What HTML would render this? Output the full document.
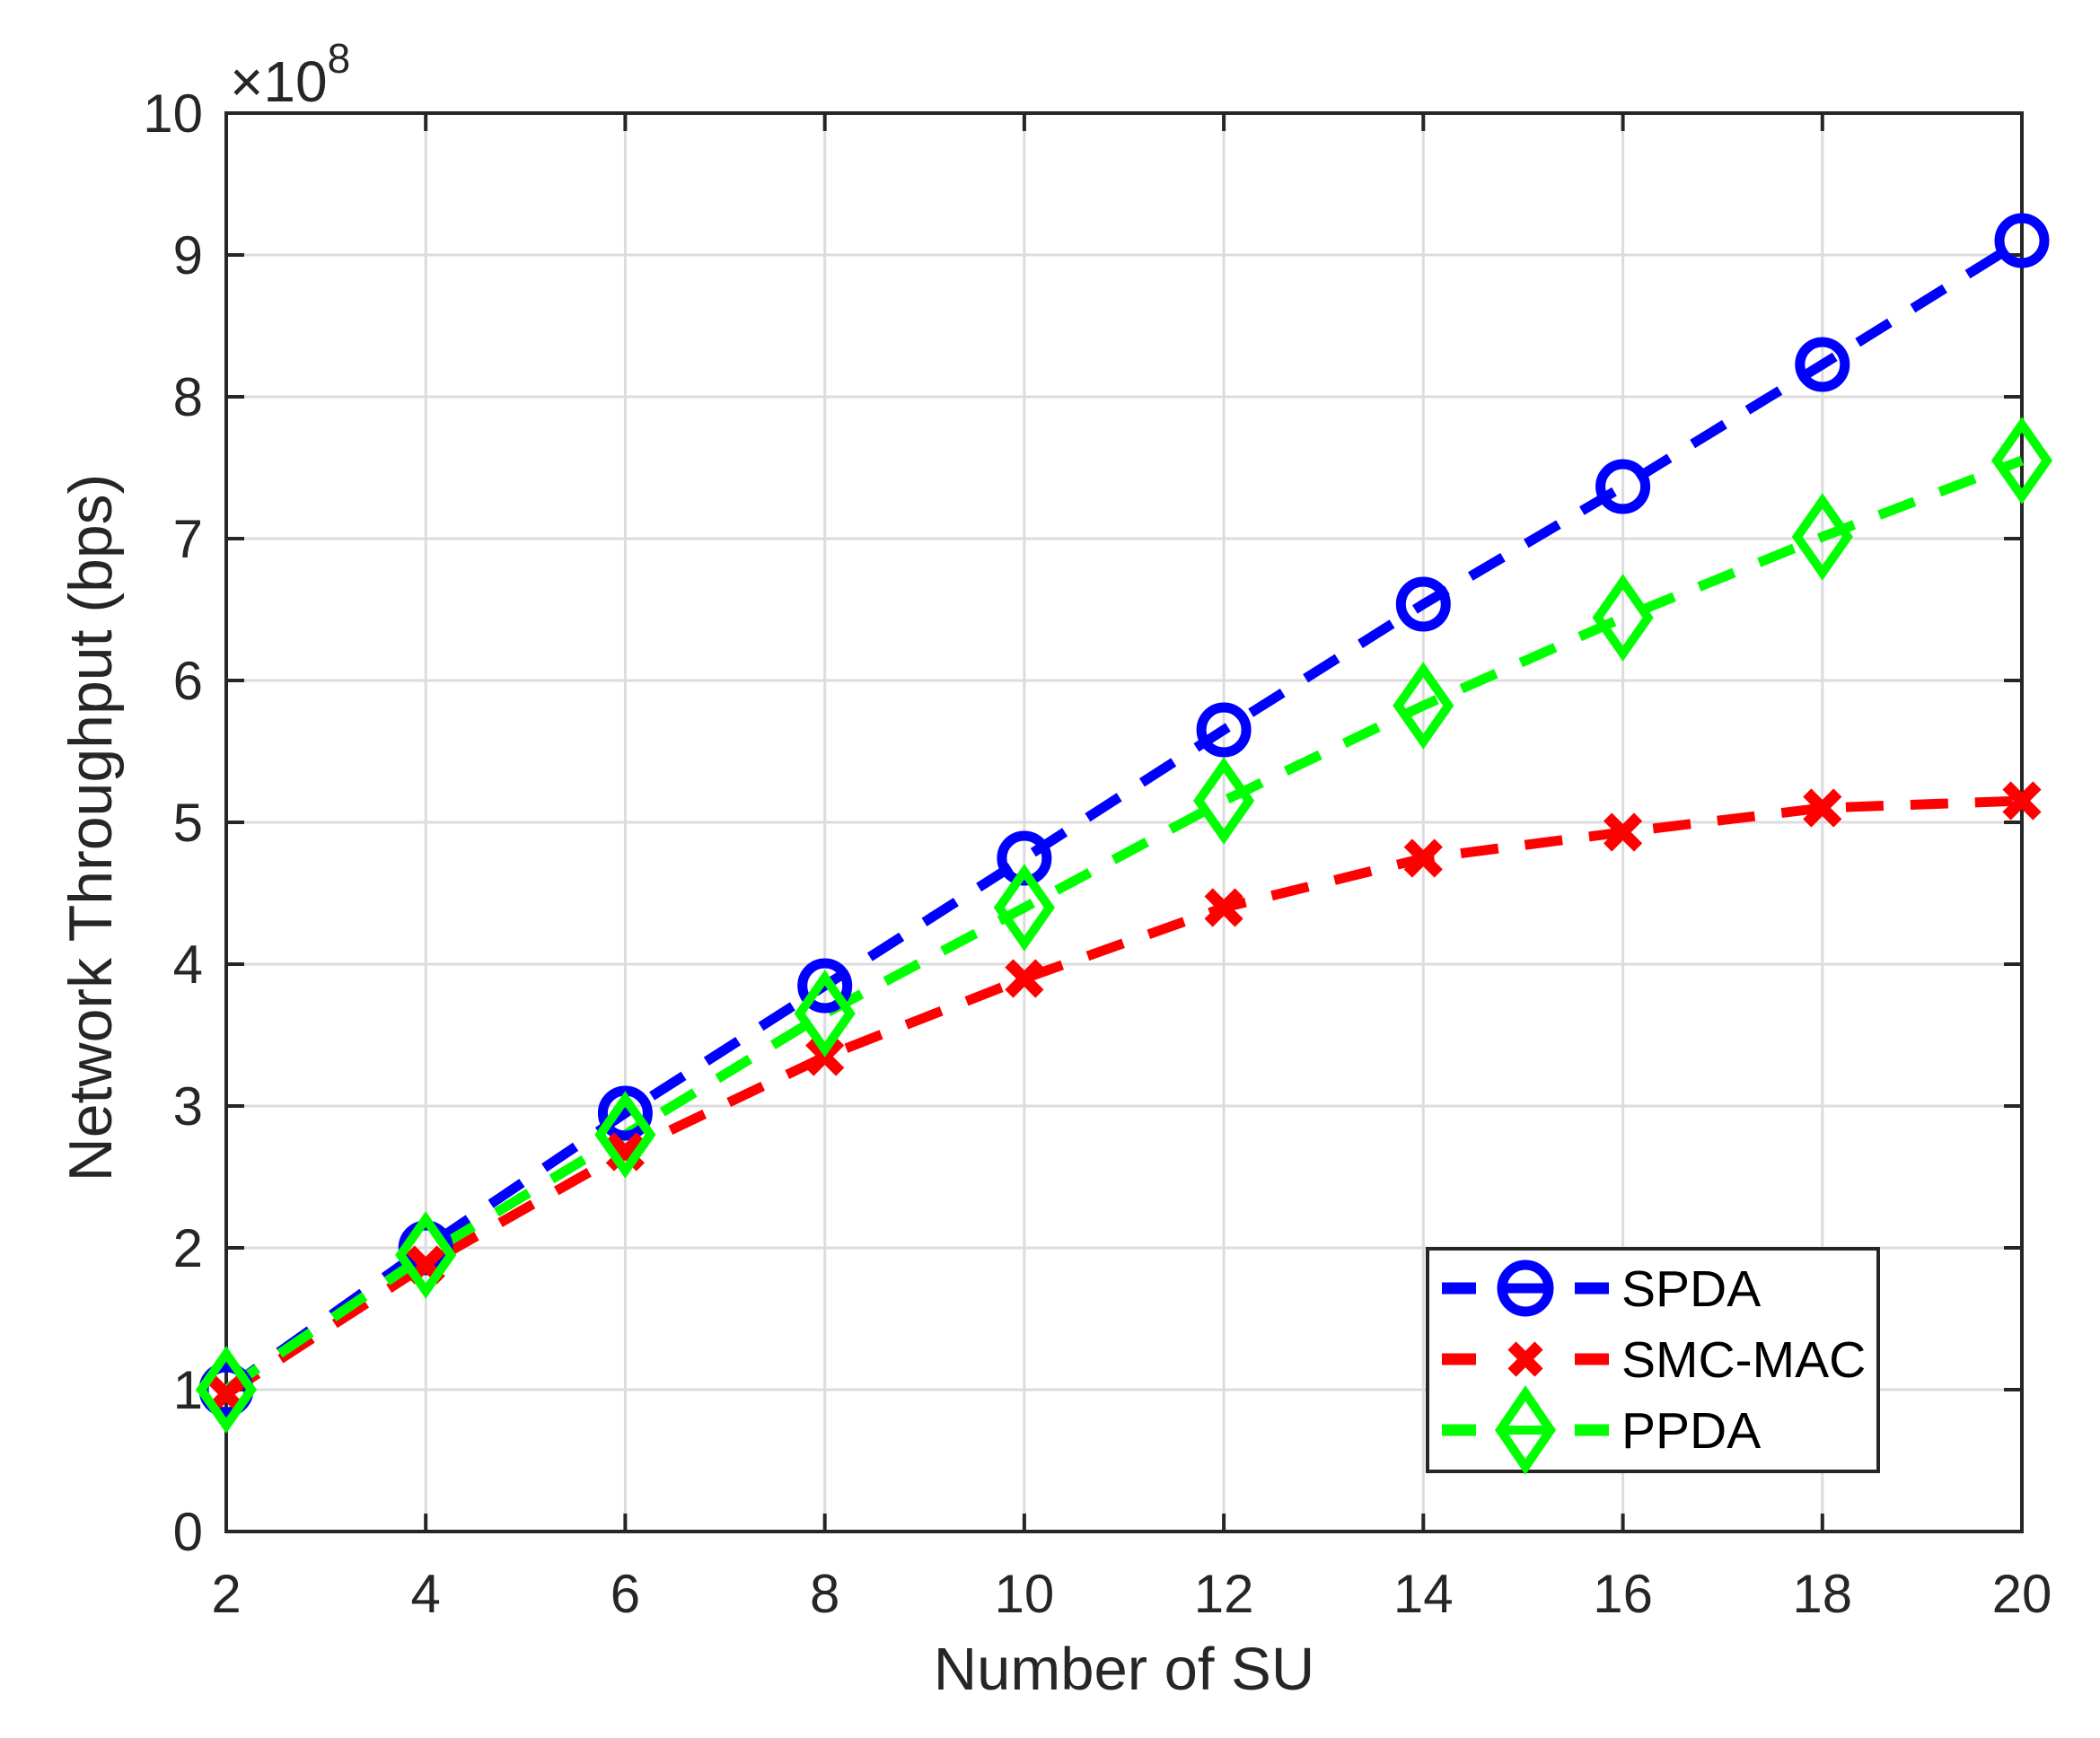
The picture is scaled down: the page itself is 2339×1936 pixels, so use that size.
<!DOCTYPE html>
<html><head><meta charset="utf-8"><style>html,body{margin:0;padding:0;background:#fff}svg{display:block}</style></head>
<body>
<svg xmlns="http://www.w3.org/2000/svg" width="2339" height="1936" viewBox="0 0 2339 1936" font-family="Liberation Sans, sans-serif">
<rect width="2339" height="1936" fill="#fff"/>
<g stroke="#dcdcdc" stroke-width="3">
<line x1="474.2" y1="126" x2="474.2" y2="1706"/><line x1="696.4" y1="126" x2="696.4" y2="1706"/><line x1="918.7" y1="126" x2="918.7" y2="1706"/><line x1="1140.9" y1="126" x2="1140.9" y2="1706"/><line x1="1363.1" y1="126" x2="1363.1" y2="1706"/><line x1="1585.3" y1="126" x2="1585.3" y2="1706"/><line x1="1807.6" y1="126" x2="1807.6" y2="1706"/><line x1="2029.8" y1="126" x2="2029.8" y2="1706"/>
<line x1="252" y1="1548" x2="2252" y2="1548"/><line x1="252" y1="1390" x2="2252" y2="1390"/><line x1="252" y1="1232" x2="2252" y2="1232"/><line x1="252" y1="1074" x2="2252" y2="1074"/><line x1="252" y1="916" x2="2252" y2="916"/><line x1="252" y1="758" x2="2252" y2="758"/><line x1="252" y1="600" x2="2252" y2="600"/><line x1="252" y1="442" x2="2252" y2="442"/><line x1="252" y1="284" x2="2252" y2="284"/>
</g>
<g stroke="#262626" stroke-width="4">
<path d="M474.2,1706v-20M696.4,1706v-20M918.7,1706v-20M1140.9,1706v-20M1363.1,1706v-20M1585.3,1706v-20M1807.6,1706v-20M2029.8,1706v-20"/>
<path d="M474.2,126v20M696.4,126v20M918.7,126v20M1140.9,126v20M1363.1,126v20M1585.3,126v20M1807.6,126v20M2029.8,126v20"/>
<path d="M252,1548h20M252,1390h20M252,1232h20M252,1074h20M252,916h20M252,758h20M252,600h20M252,442h20M252,284h20"/>
<path d="M2252,1548h-20M2252,1390h-20M2252,1232h-20M2252,1074h-20M2252,916h-20M2252,758h-20M2252,600h-20M2252,442h-20M2252,284h-20"/>
<rect x="252" y="126" width="2000" height="1580" fill="none"/>
</g>
<g fill="none" stroke-width="11" stroke-dasharray="42 30">
<polyline stroke="#0000ff" points="252,1548 474.2,1390 696.4,1240 918.7,1098 1140.9,956 1363.1,813 1585.3,673 1807.6,542 2029.8,406 2252,268"/>
<polyline stroke="#ff0000" points="252,1553 474.2,1409 696.4,1283 918.7,1177 1140.9,1090 1363.1,1011 1585.3,956 1807.6,927 2029.8,900 2252,892"/>
<polyline stroke="#00ff00" points="252,1548 474.2,1398 696.4,1264 918.7,1129 1140.9,1011 1363.1,892 1585.3,786 1807.6,688 2029.8,598 2252,513"/>
</g>
<g fill="none" stroke="#0000ff" stroke-width="11">
<circle cx="252" cy="1548" r="25"/><circle cx="474.2" cy="1390" r="25"/><circle cx="696.4" cy="1240" r="25"/><circle cx="918.7" cy="1098" r="25"/><circle cx="1140.9" cy="956" r="25"/><circle cx="1363.1" cy="813" r="25"/><circle cx="1585.3" cy="673" r="25"/><circle cx="1807.6" cy="542" r="25"/><circle cx="2029.8" cy="406" r="25"/><circle cx="2252" cy="268" r="25"/>
</g>
<g fill="none" stroke="#ff0000" stroke-width="13">
<path d="M235,1536l34,34m0,-34l-34,34M457.2,1392l34,34m0,-34l-34,34M679.4,1266l34,34m0,-34l-34,34M901.7,1160l34,34m0,-34l-34,34M1123.9,1073l34,34m0,-34l-34,34M1346.1,994l34,34m0,-34l-34,34M1568.3,939l34,34m0,-34l-34,34M1790.6,910l34,34m0,-34l-34,34M2012.8,883l34,34m0,-34l-34,34M2235,875l34,34m0,-34l-34,34"/>
</g>
<g fill="none" stroke="#00ff00" stroke-width="10">
<path d="M252,1508l28,40l-28,40l-28,-40zM474.2,1358l28,40l-28,40l-28,-40zM696.4,1224l28,40l-28,40l-28,-40zM918.7,1089l28,40l-28,40l-28,-40zM1140.9,971l28,40l-28,40l-28,-40zM1363.1,852l28,40l-28,40l-28,-40zM1585.3,746l28,40l-28,40l-28,-40zM1807.6,648l28,40l-28,40l-28,-40zM2029.8,558l28,40l-28,40l-28,-40zM2252,473l28,40l-28,40l-28,-40z"/>
</g>
<g fill="#262626" font-size="60" text-anchor="middle">
<text x="252" y="1796">2</text><text x="474.2" y="1796">4</text><text x="696.4" y="1796">6</text><text x="918.7" y="1796">8</text><text x="1140.9" y="1796">10</text><text x="1363.1" y="1796">12</text><text x="1585.3" y="1796">14</text><text x="1807.6" y="1796">16</text><text x="2029.8" y="1796">18</text><text x="2252" y="1796">20</text>
</g>
<g fill="#262626" font-size="60" text-anchor="end">
<text x="226" y="1727">0</text><text x="226" y="1569">1</text><text x="226" y="1411">2</text><text x="226" y="1253">3</text><text x="226" y="1095">4</text><text x="226" y="937">5</text><text x="226" y="779">6</text><text x="226" y="621">7</text><text x="226" y="463">8</text><text x="226" y="305">9</text><text x="226" y="147">10</text>
</g>
<text x="256" y="113" font-size="64" fill="#262626">×10<tspan font-size="46" dy="-32">8</tspan></text>
<text x="1252" y="1882" font-size="67" fill="#262626" text-anchor="middle">Number of SU</text>
<text transform="translate(124,922) rotate(-90)" font-size="68" fill="#262626" text-anchor="middle">Network Throughput (bps)</text>
<rect x="1590" y="1391" width="502" height="248" fill="#fff" stroke="#262626" stroke-width="4"/>
<g stroke-width="13">
<path d="M1606,1435h38M1754,1435h38" stroke="#0000ff"/>
<path d="M1606,1514h38M1754,1514h38" stroke="#ff0000"/>
<path d="M1606,1593h38M1754,1593h38" stroke="#00ff00"/>
</g>
<circle cx="1699" cy="1435" r="26" fill="none" stroke="#0000ff" stroke-width="11"/>
<path d="M1676,1435h46" stroke="#0000ff" stroke-width="11"/>
<path d="M1684,1499l30,30m0,-30l-30,30" stroke="#ff0000" stroke-width="13"/>
<path d="M1699,1552l28,41l-28,41l-28,-41z" fill="none" stroke="#00ff00" stroke-width="10"/>
<path d="M1676,1593h46" stroke="#00ff00" stroke-width="10"/>
<g font-size="57" fill="#000">
<text x="1806" y="1455">SPDA</text><text x="1806" y="1534">SMC-MAC</text><text x="1806" y="1613">PPDA</text>
</g>
</svg>
</body></html>
